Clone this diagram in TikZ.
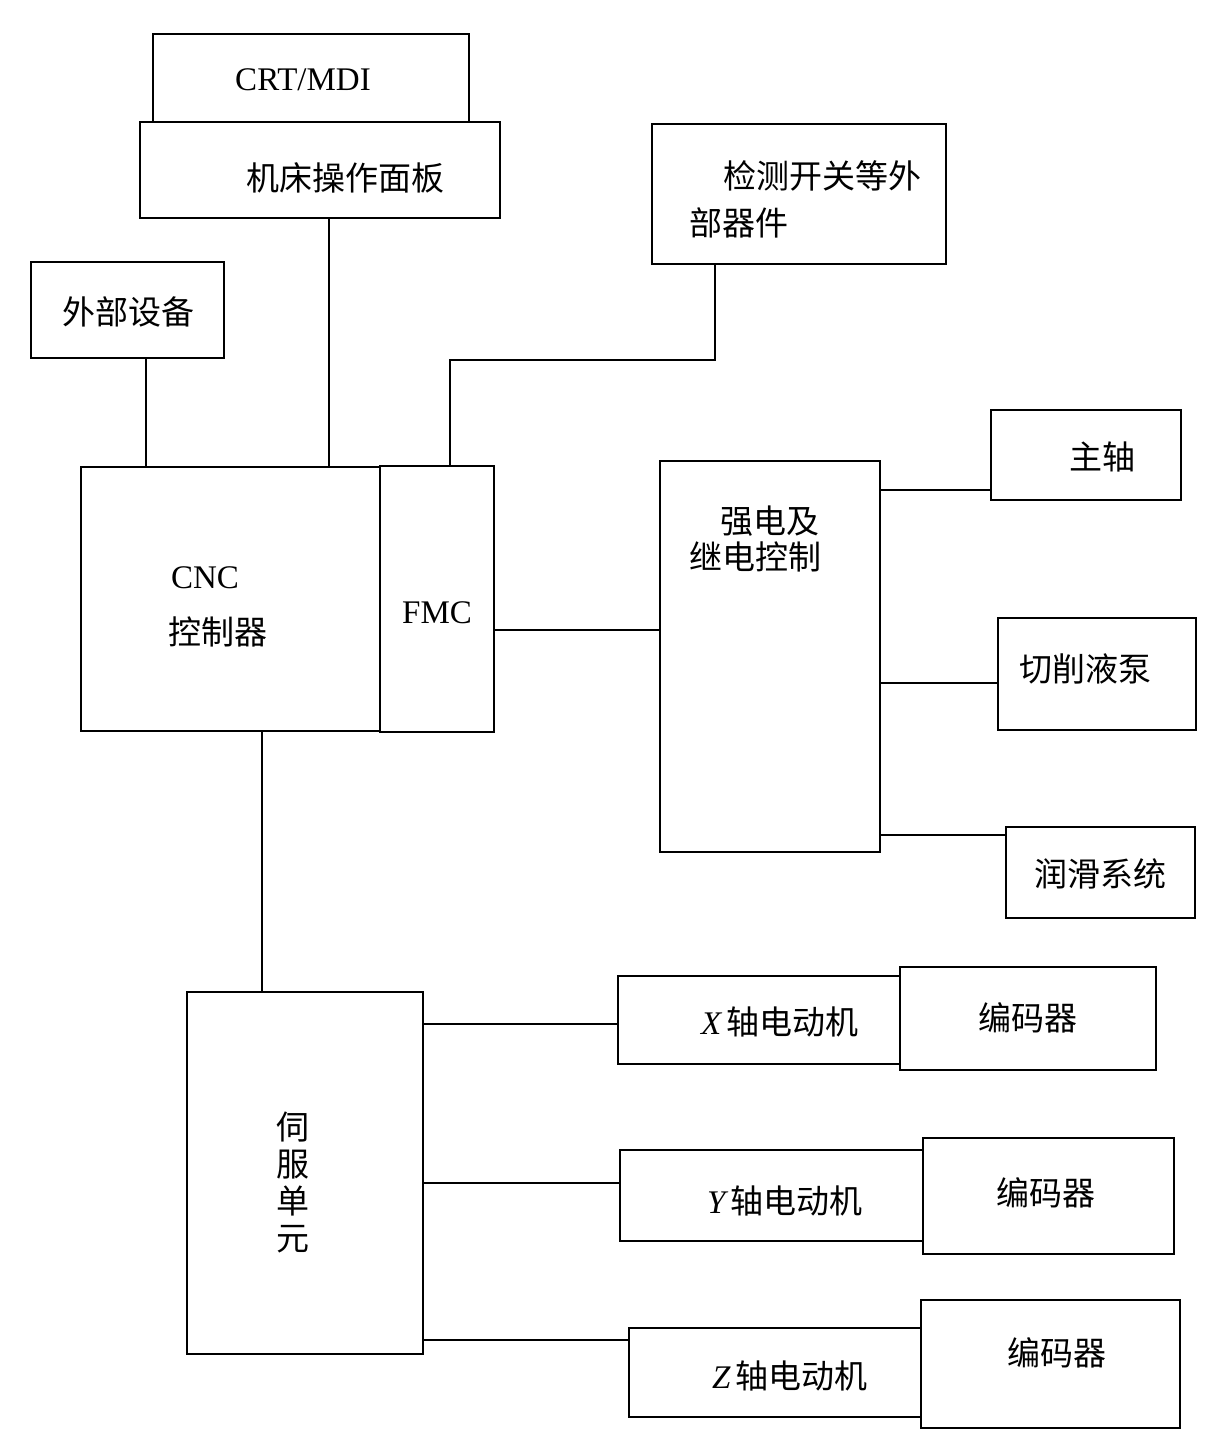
\documentclass[tikz,border=0pt]{standalone}
\usepackage{fontspec}
\setmainfont{Liberation Serif}
\newfontfamily\cjk{Noto Sans CJK SC}
\newcommand\bx[5]{\node[box,minimum width={(#4-#2)*0.5pt},minimum height={(#5-#3)*0.5pt}] (#1) at ({(#2+#4)/2},{(#3+#5)/2}) {};}
\begin{document}
\begin{tikzpicture}[x=0.5pt,y=-0.5pt,
  box/.style={draw,line width=1pt,inner sep=0pt},
  txt/.style={inner sep=0pt,font=\fontsize{16.5}{19}\selectfont\cjk},
  lat/.style={inner sep=0pt,font=\fontsize{16.5}{19}\selectfont},
  conn/.style={line width=1pt}]
\useasboundingbox[fill=white] (0,0) rectangle (1220,1454);
% boxes
\bx{crt}{153}{34}{469}{122}
\bx{panel}{140}{122}{500}{218}
\bx{detect}{652}{124}{946}{264}
\bx{ext}{31}{262}{224}{358}
\bx{cnc}{81}{467}{380}{731}
\bx{fmc}{380}{466}{494}{732}
\bx{relay}{660}{461}{880}{852}
\bx{spindle}{991}{410}{1181}{500}
\bx{pump}{998}{618}{1196}{730}
\bx{lube}{1006}{827}{1195}{918}
\bx{servo}{187}{992}{423}{1354}
\bx{xm}{618}{976}{900}{1064}
\bx{xe}{900}{967}{1156}{1070}
\bx{ym}{620}{1150}{923}{1241}
\bx{ye}{923}{1138}{1174}{1254}
\bx{zm}{629}{1328}{921}{1417}
\bx{ze}{921}{1300}{1180}{1428}
% texts
\node[lat] (tcrt) at (303,80) {CRT/MDI};
\node[txt] (tpanel) at (345,178) {机床操作面板};
\node[txt] (tdet1) at (822,176) {检测开关等外};
\node[txt] (tdet2) at (739,223) {部器件};
\node[txt] (text) at (128,312) {外部设备};
\node[lat] (tcnc1) at (205,578) {CNC};
\node[txt] (tcnc2) at (218,632) {控制器};
\node[lat] (tfmc) at (437,613) {FMC};
\node[txt] (trel1) at (770,521) {强电及};
\node[txt] (trel2) at (755,557) {继电控制};
\node[txt] (tspin) at (1102,457) {主轴};
\node[txt] (tpump) at (1085,669) {切削液泵};
\node[txt] (tlube) at (1100,874) {润滑系统};
\node[inner sep=0pt,align=center,font=\fontsize{16.5}{18.5}\selectfont\cjk] (tservo) at (293,1182) {伺\\服\\单\\元};
\node[txt] (txm) at (780,1022) {{\rmfamily\itshape X}\,轴电动机};
\node[txt] (txe) at (1028,1018) {编码器};
\node[txt] (tym) at (785,1201) {{\rmfamily\itshape Y}\,轴电动机};
\node[txt] (tye) at (1046,1193) {编码器};
\node[txt] (tzm) at (790,1376) {{\rmfamily\itshape Z}\,轴电动机};
\node[txt] (tze) at (1057,1353) {编码器};
% connectors
\draw[conn] (ext.south -| 146,0) -- (cnc.north -| 146,0);
\draw[conn] (panel.south -| 329,0) -- (cnc.north -| 329,0);
\draw[conn] (detect.south -| 715,0) |- (450,360) -- (fmc.north -| 450,0);
\draw[conn] (fmc.east |- 0,630) -- (relay.west |- 0,630);
\draw[conn] (relay.east |- 0,490) -- (spindle.west |- 0,490);
\draw[conn] (relay.east |- 0,683) -- (pump.west |- 0,683);
\draw[conn] (relay.east |- 0,835) -- (lube.west |- 0,835);
\draw[conn] (cnc.south -| 262,0) -- (servo.north -| 262,0);
\draw[conn] (servo.east |- 0,1024) -- (xm.west |- 0,1024);
\draw[conn] (servo.east |- 0,1183) -- (ym.west |- 0,1183);
\draw[conn] (servo.east |- 0,1340) -- (zm.west |- 0,1340);
\end{tikzpicture}
\end{document}
